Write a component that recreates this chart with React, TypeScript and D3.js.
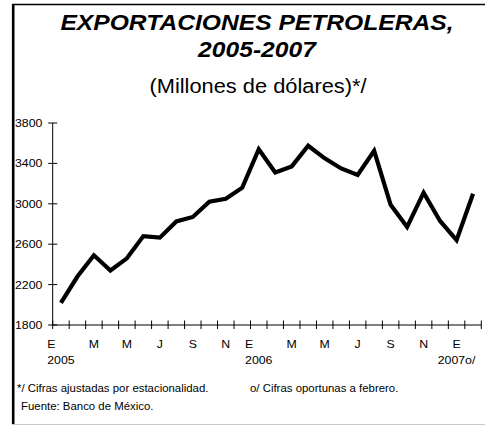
import { useEffect, useRef } from 'react'
import * as d3 from 'd3'

// Monthly oil exports, seasonally adjusted (millions of dollars)
const months = [
  '2005-01', '2005-02', '2005-03', '2005-04', '2005-05', '2005-06',
  '2005-07', '2005-08', '2005-09', '2005-10', '2005-11', '2005-12',
  '2006-01', '2006-02', '2006-03', '2006-04', '2006-05', '2006-06',
  '2006-07', '2006-08', '2006-09', '2006-10', '2006-11', '2006-12',
  '2007-01', '2007-02',
]
const exportValues = [
  2020, 2280, 2490, 2340, 2460, 2680, 2665, 2825, 2870, 3020, 3050, 3160,
  3540, 3310, 3370, 3575, 3450, 3350, 3285, 3525, 2990, 2770, 3110, 2830,
  2640, 3100,
]
const monthLabels = [
  'E', '', 'M', '', 'M', '', 'J', '', 'S', '', 'N', '',
  'E', '', 'M', '', 'M', '', 'J', '', 'S', '', 'N', '',
  'E', '',
]
const yearLabels = [
  '2005', '', '', '', '', '', '', '', '', '', '', '',
  '2006', '', '', '', '', '', '', '', '', '', '', '',
  '2007o/', '',
]
const yTicks = [1800, 2200, 2600, 3000, 3400, 3800]

const W = 485
const H = 425
const SX = 1.12 // the source image is slightly stretched horizontally
const FONT = "'Liberation Sans', Arial, Helvetica, sans-serif"

export default function App() {
  const svgRef = useRef<SVGSVGElement>(null)

  useEffect(() => {
    if (!svgRef.current) return
    const svg = d3.select(svgRef.current)
    svg.selectAll('*').remove()

    const left = 52.7
    const right = 481.3
    const top = 123
    const bottom = 325

    const x = d3.scaleBand<string>().domain(months).range([left, right]).padding(0)
    const y = d3.scaleLinear().domain([1800, 3800]).range([bottom, top])

    const text = (tx: number, ty: number, str: string, size: number, anchor = 'start') =>
      svg.append('text')
        .attr('transform', `translate(${tx},${ty}) scale(${SX},1)`)
        .attr('text-anchor', anchor)
        .attr('font-family', FONT)
        .attr('font-size', size)
        .attr('fill', '#000')
        .text(str)

    // frame
    svg.append('line').attr('x1', 12).attr('x2', 485).attr('y1', 4.5).attr('y2', 4.5)
      .attr('stroke', '#000').attr('stroke-width', 1.5)
    svg.append('line').attr('x1', 13.2).attr('x2', 13.2).attr('y1', 4).attr('y2', 424)
      .attr('stroke', '#000').attr('stroke-width', 2.6)
    svg.append('line').attr('x1', 12).attr('x2', 485).attr('y1', 424.5).attr('y2', 424.5)
      .attr('stroke', '#c8c8c8').attr('stroke-width', 1)

    // titles
    text(257, 30, 'EXPORTACIONES PETROLERAS,', 22, 'middle')
      .attr('font-weight', 'bold').attr('font-style', 'italic')
    text(257, 57, '2005-2007', 22, 'middle')
      .attr('font-weight', 'bold').attr('font-style', 'italic')
    text(258, 93, '(Millones de dólares)*/', 19.5, 'middle')

    // y axis
    const g = svg.append('g').attr('stroke', '#000').attr('stroke-width', 1)
    g.append('line').attr('x1', left).attr('x2', left).attr('y1', top).attr('y2', bottom)
    g.selectAll('.ytick')
      .data(yTicks)
      .enter().append('line')
      .attr('x1', left - 4.5).attr('x2', left + 4.5)
      .attr('y1', d => y(d)).attr('y2', d => y(d))
    yTicks.forEach(v => text(15, y(v) + 4, String(v), 11))

    // x axis
    const step = x.step()
    const boundaries = d3.range(months.length + 1).map(i => (x(months[0]) as number) + i * step)
    g.append('line').attr('x1', left).attr('x2', right).attr('y1', bottom).attr('y2', bottom)
    g.selectAll('.xtick')
      .data(boundaries)
      .enter().append('line')
      .attr('x1', d => d).attr('x2', d => d)
      .attr('y1', bottom - 4.5).attr('y2', bottom + 4)

    months.forEach((m, i) => {
      const cx = (x(m) as number) + x.bandwidth() / 2
      const yl = yearLabels[i]
      if (yl) text(cx, 364, yl, 11, 'middle')
      if (monthLabels[i]) {
        if (yl && yl.length === 4) text(cx - 13.7, 347.5, monthLabels[i], 11, 'start')
        else text(cx, 347.5, monthLabels[i], 11, 'middle')
      }
    })

    // series
    const line = d3.line<number>()
      .x((_, i) => (x(months[i]) as number) + x.bandwidth() / 2)
      .y(d => y(d))
    svg.append('path')
      .datum(exportValues)
      .attr('d', line)
      .attr('fill', 'none')
      .attr('stroke', '#000')
      .attr('stroke-width', 4.2)
      .attr('stroke-linejoin', 'miter')

    // footnotes
    text(17, 392, '*/ Cifras ajustadas por estacionalidad.', 10.2)
    text(250, 392, 'o/ Cifras oportunas a febrero.', 10.2)
    text(21, 409.5, 'Fuente: Banco de México.', 10.2)
  }, [])

  return (
    <svg
      ref={svgRef}
      width={W}
      height={H}
      style={{ position: 'absolute', left: 0, top: 0, background: '#fff' }}
    />
  )
}
